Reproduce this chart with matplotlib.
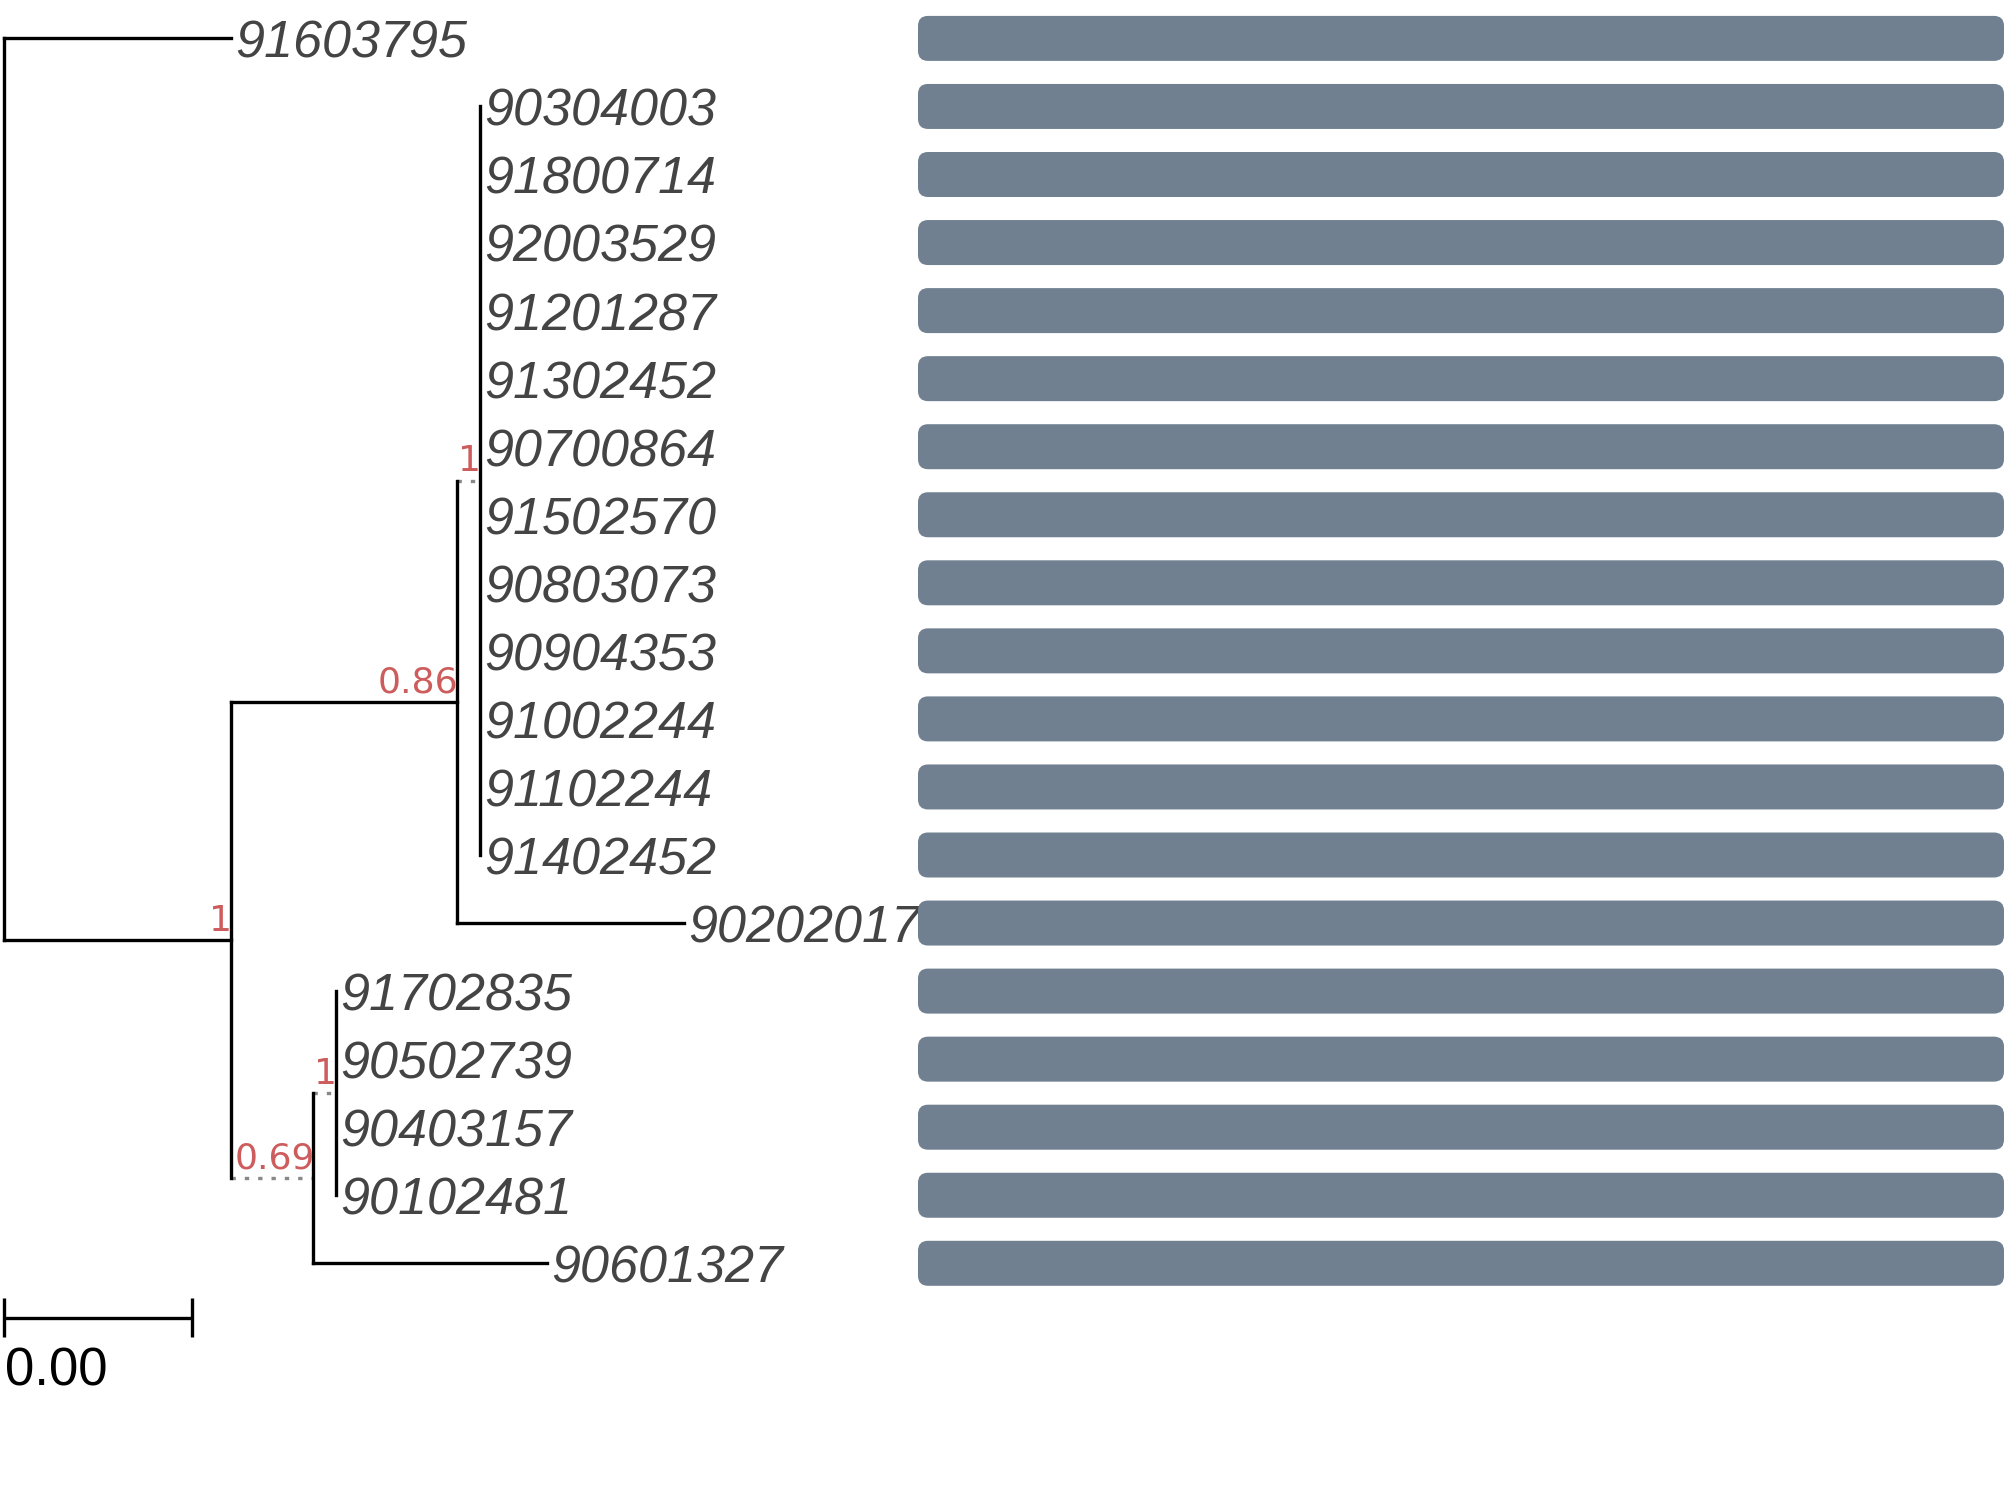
import matplotlib
matplotlib.use("Agg")
import matplotlib.pyplot as plt
from matplotlib.patches import FancyBboxPatch

# ---------------- data ----------------
edge_parent = ["root", "root", "A", "B",
               "C", "C", "C", "C", "C", "C", "C", "C", "C", "C", "C", "C",
               "B", "A", "D",
               "E", "E", "E", "E",
               "D"]
edge_child = ["91603795", "A", "B", "C",
              "90304003", "91800714", "92003529", "91201287", "91302452", "90700864",
              "91502570", "90803073", "90904353", "91002244", "91102244", "91402452",
              "90202017", "D", "E",
              "91702835", "90502739", "90403157", "90102481",
              "90601327"]
edge_length = [0.00484, 0.00482, 0.00481, 0.00049,
               0, 0, 0, 0, 0, 0, 0, 0, 0, 0, 0, 0,
               0.00483, 0.00176, 0.00048,
               0, 0, 0, 0,
               0.00497]
support_node = ["A", "B", "C", "D", "E"]
support_value = [1, 0.86, 1, 0.69, 1]
scale_bar_length = 0.004
scale_bar_label = "0.00"
bar_value = [1.0, 1.0, 1.0, 1.0, 1.0, 1.0, 1.0, 1.0, 1.0, 1.0,
             1.0, 1.0, 1.0, 1.0, 1.0, 1.0, 1.0, 1.0, 1.0]

# ---------------- styles ----------------
W, H, DPI = 2007, 1489, 100
PX_PER_UNIT = 47000.0
ROOT_PX = 4.0
ROW0_PX = 38.4
ROW_PX = 68.05
LW = 2.4
dotted_nodes = {"C", "D", "E"}
label_color = "#444444"
support_color = "#CD5C5C"
bar_color = "#708090"

# ---------------- layout ----------------
children = {}
length = {}
for p, c, l in zip(edge_parent, edge_child, edge_length):
    children.setdefault(p, []).append(c)
    length[c] = l

xpos, ypos = {}, {}
tips = []


def layout(node, x):
    xpos[node] = x
    if node not in children:
        ypos[node] = float(len(tips))
        tips.append(node)
        return
    for ch in children[node]:
        layout(ch, x + length[ch])
    kids = children[node]
    ypos[node] = (ypos[kids[0]] + ypos[kids[-1]]) / 2.0


layout("root", 0.0)

fig = plt.figure(figsize=(W / DPI, H / DPI), dpi=DPI)
ax = fig.add_axes([0, 0, 1, 1])
ax.set_xlim(-ROOT_PX / PX_PER_UNIT, (W - ROOT_PX) / PX_PER_UNIT)
ymin = -ROW0_PX / ROW_PX
ymax = (H - ROW0_PX) / ROW_PX
ax.set_ylim(ymax, ymin)
ax.axis("off")

# vertical lines
for node, kids in children.items():
    ax.plot([xpos[node], xpos[node]], [ypos[kids[0]], ypos[kids[-1]]],
            color="black", lw=LW, solid_capstyle="projecting", zorder=3)

# horizontal lines
for p, c in zip(edge_parent, edge_child):
    if xpos[c] == xpos[p]:
        continue
    if c in dotted_nodes:
        ax.plot([xpos[p], xpos[c]], [ypos[c], ypos[c]], color="#888888",
                lw=LW, linestyle=(0, (1.3, 2.7)), dash_capstyle="butt", zorder=2)
    else:
        ax.plot([xpos[p], xpos[c]], [ypos[c], ypos[c]], color="black",
                lw=LW, solid_capstyle="projecting", zorder=3)

# tip labels
for t in tips:
    ax.annotate(t, (xpos[t], ypos[t]), xytext=(3, -14), textcoords="offset points",
                ha="left", va="baseline", fontsize=37.5, fontstyle="italic",
                family="Liberation Sans", color=label_color, zorder=4)

# support labels
for n, v in zip(support_node, support_value):
    ax.annotate(f"{v:g}", (xpos[n], ypos[n]), xytext=(1, 6.7), textcoords="offset points",
                ha="right", va="baseline", fontsize=26, family="DejaVu Sans",
                color=support_color, zorder=5)

# scale bar
sb_y = ypos[tips[-1]] + 0.8
ax.plot([0, scale_bar_length], [sb_y, sb_y], color="black", lw=LW, solid_capstyle="butt")
for xx in (0, scale_bar_length):
    ax.plot([xx, xx], [sb_y - 0.287, sb_y + 0.287], color="black", lw=LW, solid_capstyle="butt")
ax.annotate(scale_bar_label, (0, sb_y + 0.287), xytext=(1, -6.5), textcoords="offset points",
            ha="left", va="top", fontsize=38, family="Liberation Sans", color="black")

# bars panel
bx0, bx1 = 918, 2004
bax = fig.add_axes([bx0 / W, 0, (bx1 - bx0) / W, 1], sharey=ax)
bax.set_xlim(0, 1)
bax.set_ylim(ymax, ymin)
bax.axis("off")
bar_h = 45 / ROW_PX
rects = bax.barh([ypos[t] for t in tips], bar_value, height=bar_h, left=0)
x_per_px = 1.0 / (bx1 - bx0)
y_per_px = 1.0 / ROW_PX
aspect = y_per_px / x_per_px
r = 10 * x_per_px
for rect in rects:
    x, y = rect.get_x(), rect.get_y()
    w, h = rect.get_width(), rect.get_height()
    rect.set_visible(False)
    bax.add_patch(FancyBboxPatch((x, y), w, h, boxstyle=f"round,pad=0,rounding_size={r}",
                                 mutation_aspect=aspect, facecolor=bar_color,
                                 edgecolor="none"))

fig.savefig("out.png", dpi=DPI)
